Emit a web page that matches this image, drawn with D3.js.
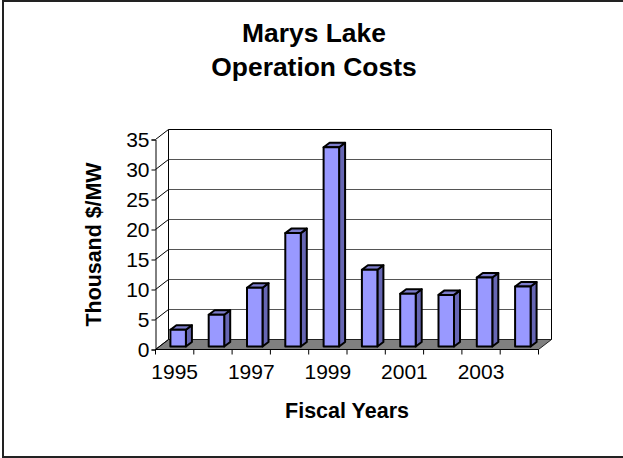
<!DOCTYPE html>
<html>
<head>
<meta charset="utf-8">
<script src="https://cdn.jsdelivr.net/npm/d3@7"></script>
<style>
  html, body { margin: 0; padding: 0; background: #fff; }
  svg { display: block; }
  text { font-family: "Liberation Sans", Arial, sans-serif; fill: #000; }
</style>
</head>
<body>
<div id="chart"></div>
<script>
const years = [1995, 1996, 1997, 1998, 1999, 2000, 2001, 2002, 2003, 2004];
const costs = [2.8, 5.3, 9.8, 18.9, 33.2, 12.8, 8.8, 8.6, 11.5, 10];
const yTicks = [0, 5, 10, 15, 20, 25, 30, 35];
const xLabels = [1995, 1997, 1999, 2001, 2003];
const titleLines = ["Marys Lake", "Operation Costs"];

const svg = d3.select("#chart").append("svg").attr("width", 623).attr("height", 458);

// Chart frame, right edge runs off the picture
svg.append("rect").attr("x", 3).attr("y", 1).attr("width", 622).attr("height", 456)
  .attr("fill", "#fff").attr("stroke", "#222").attr("stroke-width", 2);

const x = d3.scaleBand().domain(years).range([155.5, 538.5]);
const y = d3.scaleLinear().domain([0, 35]).range([349.5, 139.5]);

// Depth of the fake 3D box and of the bars inside it
const depthX = 13, depthY = -10;
const barOffsetX = 3.5, barOffsetY = -3, barDepthX = 6, barDepthY = -4.5;
const barWidth = 15.5;

// Floor
const floor = [[x.range()[0], y(0)], [x.range()[1], y(0)],
  [x.range()[1] + depthX, y(0) + depthY], [x.range()[0] + depthX, y(0) + depthY]];
svg.append("polygon").attr("points", floor.join(" ")).attr("fill", "#808080").attr("stroke", "#222");

// Back wall gridlines and their slanted side lines
const wallLeft = x.range()[0] + depthX, wallRight = x.range()[1] + depthX;
svg.selectAll(".grid").data(yTicks.slice(1)).enter().append("line")
  .attr("x1", wallLeft).attr("x2", wallRight)
  .attr("y1", d => y(d) + depthY).attr("y2", d => y(d) + depthY)
  .attr("stroke", d => d === 35 ? "#000" : "#555").attr("stroke-width", 1);
svg.selectAll(".side").data(yTicks).enter().append("line")
  .attr("x1", x.range()[0]).attr("x2", wallLeft)
  .attr("y1", d => y(d)).attr("y2", d => y(d) + depthY)
  .attr("stroke", "#000");
svg.append("line").attr("x1", wallLeft).attr("x2", wallLeft)
  .attr("y1", y(0) + depthY).attr("y2", y(35) + depthY).attr("stroke", "#000");
svg.append("line").attr("x1", wallRight).attr("x2", wallRight)
  .attr("y1", y(0) + depthY).attr("y2", y(35) + depthY).attr("stroke", "#000");

// Bars
const bars = svg.selectAll(".bar").data(years).enter().append("g").attr("class", "bar")
  .attr("stroke", "#000").attr("stroke-width", 2).attr("stroke-linejoin", "round");
const bx = d => x(d) + (x.bandwidth() - barWidth) / 2 + barOffsetX;
const val = d => costs[years.indexOf(d)];
const by0 = y(0) + barOffsetY;
const h = d => y(0) - y(val(d));
bars.append("polygon").attr("fill", "#6666b3").attr("points", d => [
  [bx(d) + barWidth, by0], [bx(d) + barWidth + barDepthX, by0 + barDepthY],
  [bx(d) + barWidth + barDepthX, by0 - h(d) + barDepthY], [bx(d) + barWidth, by0 - h(d)]].join(" "));
bars.append("polygon").attr("fill", "#7d7dcc").attr("points", d => [
  [bx(d), by0 - h(d)], [bx(d) + barWidth, by0 - h(d)],
  [bx(d) + barWidth + barDepthX, by0 - h(d) + barDepthY], [bx(d) + barDepthX, by0 - h(d) + barDepthY]].join(" "));
bars.append("rect").attr("fill", "#9999ff")
  .attr("x", bx).attr("y", d => by0 - h(d)).attr("width", barWidth).attr("height", h);

// Y axis
const yAxis = svg.append("g").attr("transform", `translate(${x.range()[0]},0)`)
  .call(d3.axisLeft(y).tickValues(yTicks).tickSize(4).tickPadding(2));
yAxis.selectAll("path, line").attr("stroke", "#000");
yAxis.selectAll("text").style("font-size", "21px").style("font-family", '"Liberation Sans", Arial, sans-serif');

// X axis, ticks sit on band edges
svg.append("line").attr("x1", x.range()[0]).attr("x2", x.range()[1])
  .attr("y1", y(0)).attr("y2", y(0)).attr("stroke", "#000");
svg.selectAll(".xtick").data(years.concat("end")).enter().append("line")
  .attr("x1", d => d === "end" ? x.range()[1] : x(d))
  .attr("x2", d => d === "end" ? x.range()[1] : x(d))
  .attr("y1", y(0)).attr("y2", y(0) + 5).attr("stroke", "#000");
svg.selectAll(".xlabel").data(xLabels).enter().append("text")
  .attr("x", d => x(d) + x.bandwidth() / 2).attr("y", 379)
  .attr("text-anchor", "middle").style("font-size", "21px").text(d => d);

// Titles
svg.selectAll(".title").data(titleLines).enter().append("text")
  .attr("x", 314).attr("y", (d, i) => 42 + i * 33.5)
  .attr("text-anchor", "middle").style("font-size", "26.4px").style("font-weight", "bold").text(d => d);
svg.append("text").attr("x", 347).attr("y", 418).attr("text-anchor", "middle")
  .style("font-size", "21.5px").style("font-weight", "bold").text("Fiscal Years");
svg.append("text").attr("transform", "translate(101,244.5) rotate(-90)").attr("text-anchor", "middle")
  .style("font-size", "21.4px").style("font-weight", "bold").text("Thousand $/MW");
</script>
</body>
</html>
